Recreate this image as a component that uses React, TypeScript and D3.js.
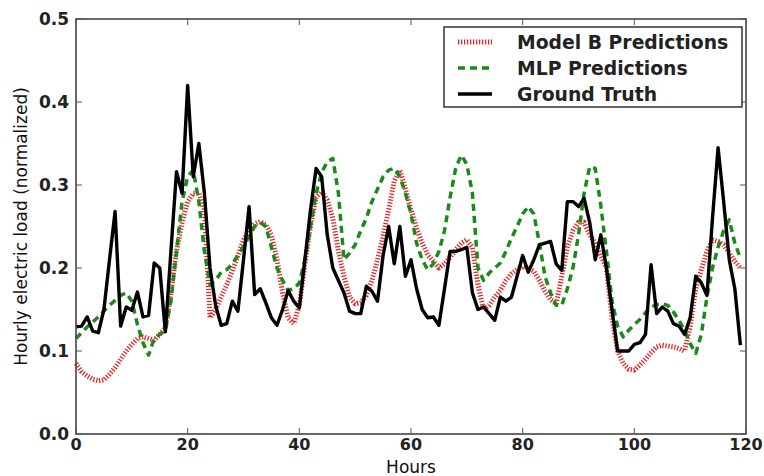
import { useEffect, useRef } from 'react'
import * as d3 from 'd3'

const groundTruth = [
  0.129, 0.13, 0.141, 0.124, 0.122, 0.15, 0.21, 0.268, 0.13, 0.153, 0.149, 0.171, 0.141, 0.143, 0.206, 0.2,
  0.123, 0.22, 0.316, 0.29, 0.42, 0.31, 0.35, 0.29, 0.2, 0.155, 0.131, 0.133, 0.16, 0.148, 0.21, 0.274,
  0.168, 0.175, 0.158, 0.14, 0.131, 0.15, 0.173, 0.16, 0.152, 0.21, 0.27, 0.32, 0.31, 0.24, 0.2, 0.185,
  0.17, 0.148, 0.145, 0.145, 0.178, 0.172, 0.16, 0.215, 0.25, 0.205, 0.25, 0.19, 0.21, 0.175, 0.15, 0.14,
  0.141, 0.131, 0.175, 0.22, 0.22, 0.222, 0.225, 0.17, 0.15, 0.153, 0.145, 0.137, 0.165, 0.16, 0.165, 0.19,
  0.215, 0.195, 0.21, 0.228, 0.23, 0.232, 0.205, 0.197, 0.28, 0.28, 0.274, 0.284, 0.255, 0.21, 0.24, 0.2,
  0.15, 0.1, 0.1, 0.1, 0.108, 0.11, 0.12, 0.204, 0.145, 0.153, 0.148, 0.133, 0.13, 0.12, 0.14, 0.19,
  0.182, 0.167, 0.26, 0.345, 0.28, 0.21, 0.175, 0.107,
]

const modelB = [
  0.085, 0.075, 0.07, 0.066, 0.064, 0.065, 0.072, 0.08, 0.09, 0.1, 0.108, 0.115, 0.117, 0.115, 0.113, 0.12,
  0.128, 0.17, 0.22, 0.255, 0.28, 0.29, 0.29, 0.27, 0.14, 0.15, 0.165, 0.18, 0.197, 0.215, 0.234, 0.245,
  0.253, 0.256, 0.252, 0.24, 0.21, 0.17, 0.14, 0.133, 0.155, 0.205, 0.25, 0.285, 0.292, 0.282, 0.26, 0.22,
  0.19, 0.165, 0.157, 0.158, 0.167, 0.185, 0.21, 0.238, 0.27, 0.305, 0.318, 0.295, 0.27, 0.248, 0.23, 0.216,
  0.208, 0.2, 0.205, 0.213, 0.222, 0.23, 0.234, 0.225, 0.18, 0.15, 0.155, 0.165, 0.173, 0.185, 0.193, 0.198,
  0.202, 0.2, 0.196, 0.185, 0.172, 0.162, 0.157, 0.19, 0.225, 0.245, 0.255, 0.255, 0.24, 0.23, 0.215, 0.2,
  0.14, 0.1, 0.085, 0.078, 0.077, 0.083, 0.09, 0.098, 0.105, 0.107, 0.106, 0.105, 0.103, 0.1, 0.13, 0.175,
  0.198, 0.22, 0.234, 0.232, 0.228, 0.218, 0.208, 0.2,
]

const mlp = [
  0.115, 0.122, 0.129, 0.135, 0.141, 0.148, 0.155, 0.161, 0.167, 0.17, 0.16, 0.132, 0.11, 0.095, 0.115, 0.12,
  0.125, 0.16, 0.22, 0.28, 0.31, 0.318, 0.28, 0.22, 0.18, 0.185, 0.195, 0.198, 0.205, 0.215, 0.226, 0.238,
  0.25, 0.255, 0.25, 0.225, 0.2, 0.185, 0.173, 0.175, 0.182, 0.21, 0.25, 0.29, 0.315, 0.328, 0.332, 0.29,
  0.21, 0.218, 0.228, 0.245, 0.26, 0.28, 0.295, 0.31, 0.318, 0.32, 0.31, 0.29, 0.265, 0.23, 0.21, 0.198,
  0.205, 0.22, 0.245, 0.285, 0.32, 0.336, 0.325, 0.29, 0.2, 0.185, 0.194, 0.2, 0.206, 0.22, 0.236, 0.25,
  0.265, 0.274, 0.265, 0.23, 0.19, 0.17, 0.155, 0.155, 0.175, 0.2, 0.24, 0.29, 0.322, 0.32, 0.275, 0.22,
  0.16, 0.13, 0.117, 0.125, 0.132, 0.138, 0.146, 0.153, 0.156, 0.157, 0.155, 0.147, 0.137, 0.125, 0.109, 0.097,
  0.12, 0.165, 0.2, 0.225, 0.245, 0.258, 0.23, 0.212,
]

const xTicks = [0, 20, 40, 60, 80, 100, 120]
const yTicks = [0.0, 0.1, 0.2, 0.3, 0.4, 0.5]

const SERIES = [
  { name: 'Model B Predictions', values: modelB, color: '#e02828', width: 5, dash: '1.3 1.7' },
  { name: 'MLP Predictions', values: mlp, color: '#1a8a1a', width: 3.5, dash: '7 5' },
  { name: 'Ground Truth', values: groundTruth, color: '#000000', width: 3.4, dash: null },
]

const FONT = '"DejaVu Sans", sans-serif'

export default function App() {
  const ref = useRef<SVGSVGElement>(null)

  useEffect(() => {
    if (!ref.current) return
    const svg = d3.select(ref.current)
    svg.selectAll('*').remove()

    const width = 764
    const height = 476
    const margin = { top: 19, right: 18, bottom: 42, left: 76 }
    const innerW = width - margin.left - margin.right
    const innerH = height - margin.top - margin.bottom

    const x = d3.scaleLinear().domain([0, 120]).range([margin.left, margin.left + innerW])
    const y = d3.scaleLinear().domain([0, 0.5]).range([margin.top + innerH, margin.top])

    svg.append('rect').attr('width', width).attr('height', height).attr('fill', '#fff')

    const line = d3
      .line<number>()
      .x((_, i) => x(i))
      .y((d) => y(d))

    const plot = svg.append('g')
    SERIES.forEach((s) => {
      plot
        .append('path')
        .datum(s.values)
        .attr('d', line)
        .attr('fill', 'none')
        .attr('stroke', s.color)
        .attr('stroke-width', s.width)
        .attr('stroke-dasharray', s.dash)
        .attr('stroke-linejoin', 'round')
    })

    // frame
    svg
      .append('rect')
      .attr('x', margin.left)
      .attr('y', margin.top)
      .attr('width', innerW)
      .attr('height', innerH)
      .attr('fill', 'none')
      .attr('stroke', '#444')
      .attr('stroke-width', 1.6)

    const tickColor = '#555'
    xTicks.forEach((t) => {
      svg.append('line').attr('x1', x(t)).attr('x2', x(t)).attr('y1', y(0)).attr('y2', y(0) - 6).attr('stroke', tickColor)
      svg.append('line').attr('x1', x(t)).attr('x2', x(t)).attr('y1', y(0.5)).attr('y2', y(0.5) + 6).attr('stroke', tickColor)
      svg
        .append('text')
        .attr('x', x(t))
        .attr('y', 450)
        .attr('text-anchor', 'middle')
        .attr('font-family', FONT)
        .attr('font-weight', 'bold')
        .attr('font-size', 16)
        .attr('fill', '#222')
        .text(t)
    })
    yTicks.forEach((t) => {
      svg.append('line').attr('x1', x(0)).attr('x2', x(0) + 6).attr('y1', y(t)).attr('y2', y(t)).attr('stroke', tickColor)
      svg.append('line').attr('x1', x(120)).attr('x2', x(120) - 6).attr('y1', y(t)).attr('y2', y(t)).attr('stroke', tickColor)
      svg
        .append('text')
        .attr('x', x(0) - 7)
        .attr('y', y(t))
        .attr('dy', '0.36em')
        .attr('text-anchor', 'end')
        .attr('font-family', FONT)
        .attr('font-weight', 'bold')
        .attr('font-size', 17)
        .attr('fill', '#222')
        .text(t.toFixed(1))
    })

    svg
      .append('text')
      .attr('x', x(60))
      .attr('y', 473)
      .attr('text-anchor', 'middle')
      .attr('font-family', FONT)
      .attr('font-size', 17)
      .attr('fill', '#111')
      .text('Hours')

    svg
      .append('text')
      .attr('transform', `translate(27,${(y(0) + y(0.5)) / 2}) rotate(-90)`)
      .attr('text-anchor', 'middle')
      .attr('font-family', FONT)
      .attr('font-size', 17)
      .attr('fill', '#111')
      .text('Hourly electric load (normalized)')

    // legend
    const lg = svg.append('g').attr('transform', 'translate(444,27)')
    lg.append('rect')
      .attr('width', 298)
      .attr('height', 80)
      .attr('fill', '#fff')
      .attr('stroke', '#333')
      .attr('stroke-width', 1.5)
    SERIES.forEach((s, i) => {
      const cy = 15 + i * 26
      lg.append('line')
        .attr('x1', 14)
        .attr('x2', 48)
        .attr('y1', cy)
        .attr('y2', cy)
        .attr('stroke', s.color)
        .attr('stroke-width', s.width)
        .attr('stroke-dasharray', s.dash)
      lg.append('text')
        .attr('x', 73)
        .attr('y', cy)
        .attr('dy', '0.36em')
        .attr('font-family', FONT)
        .attr('font-weight', 'bold')
        .attr('font-size', 18.8)
        .attr('fill', '#222')
        .text(s.name)
    })
  }, [])

  return (
    <svg
      ref={ref}
      width={764}
      height={476}
      style={{ position: 'absolute', left: 0, top: 0 }}
    />
  )
}
